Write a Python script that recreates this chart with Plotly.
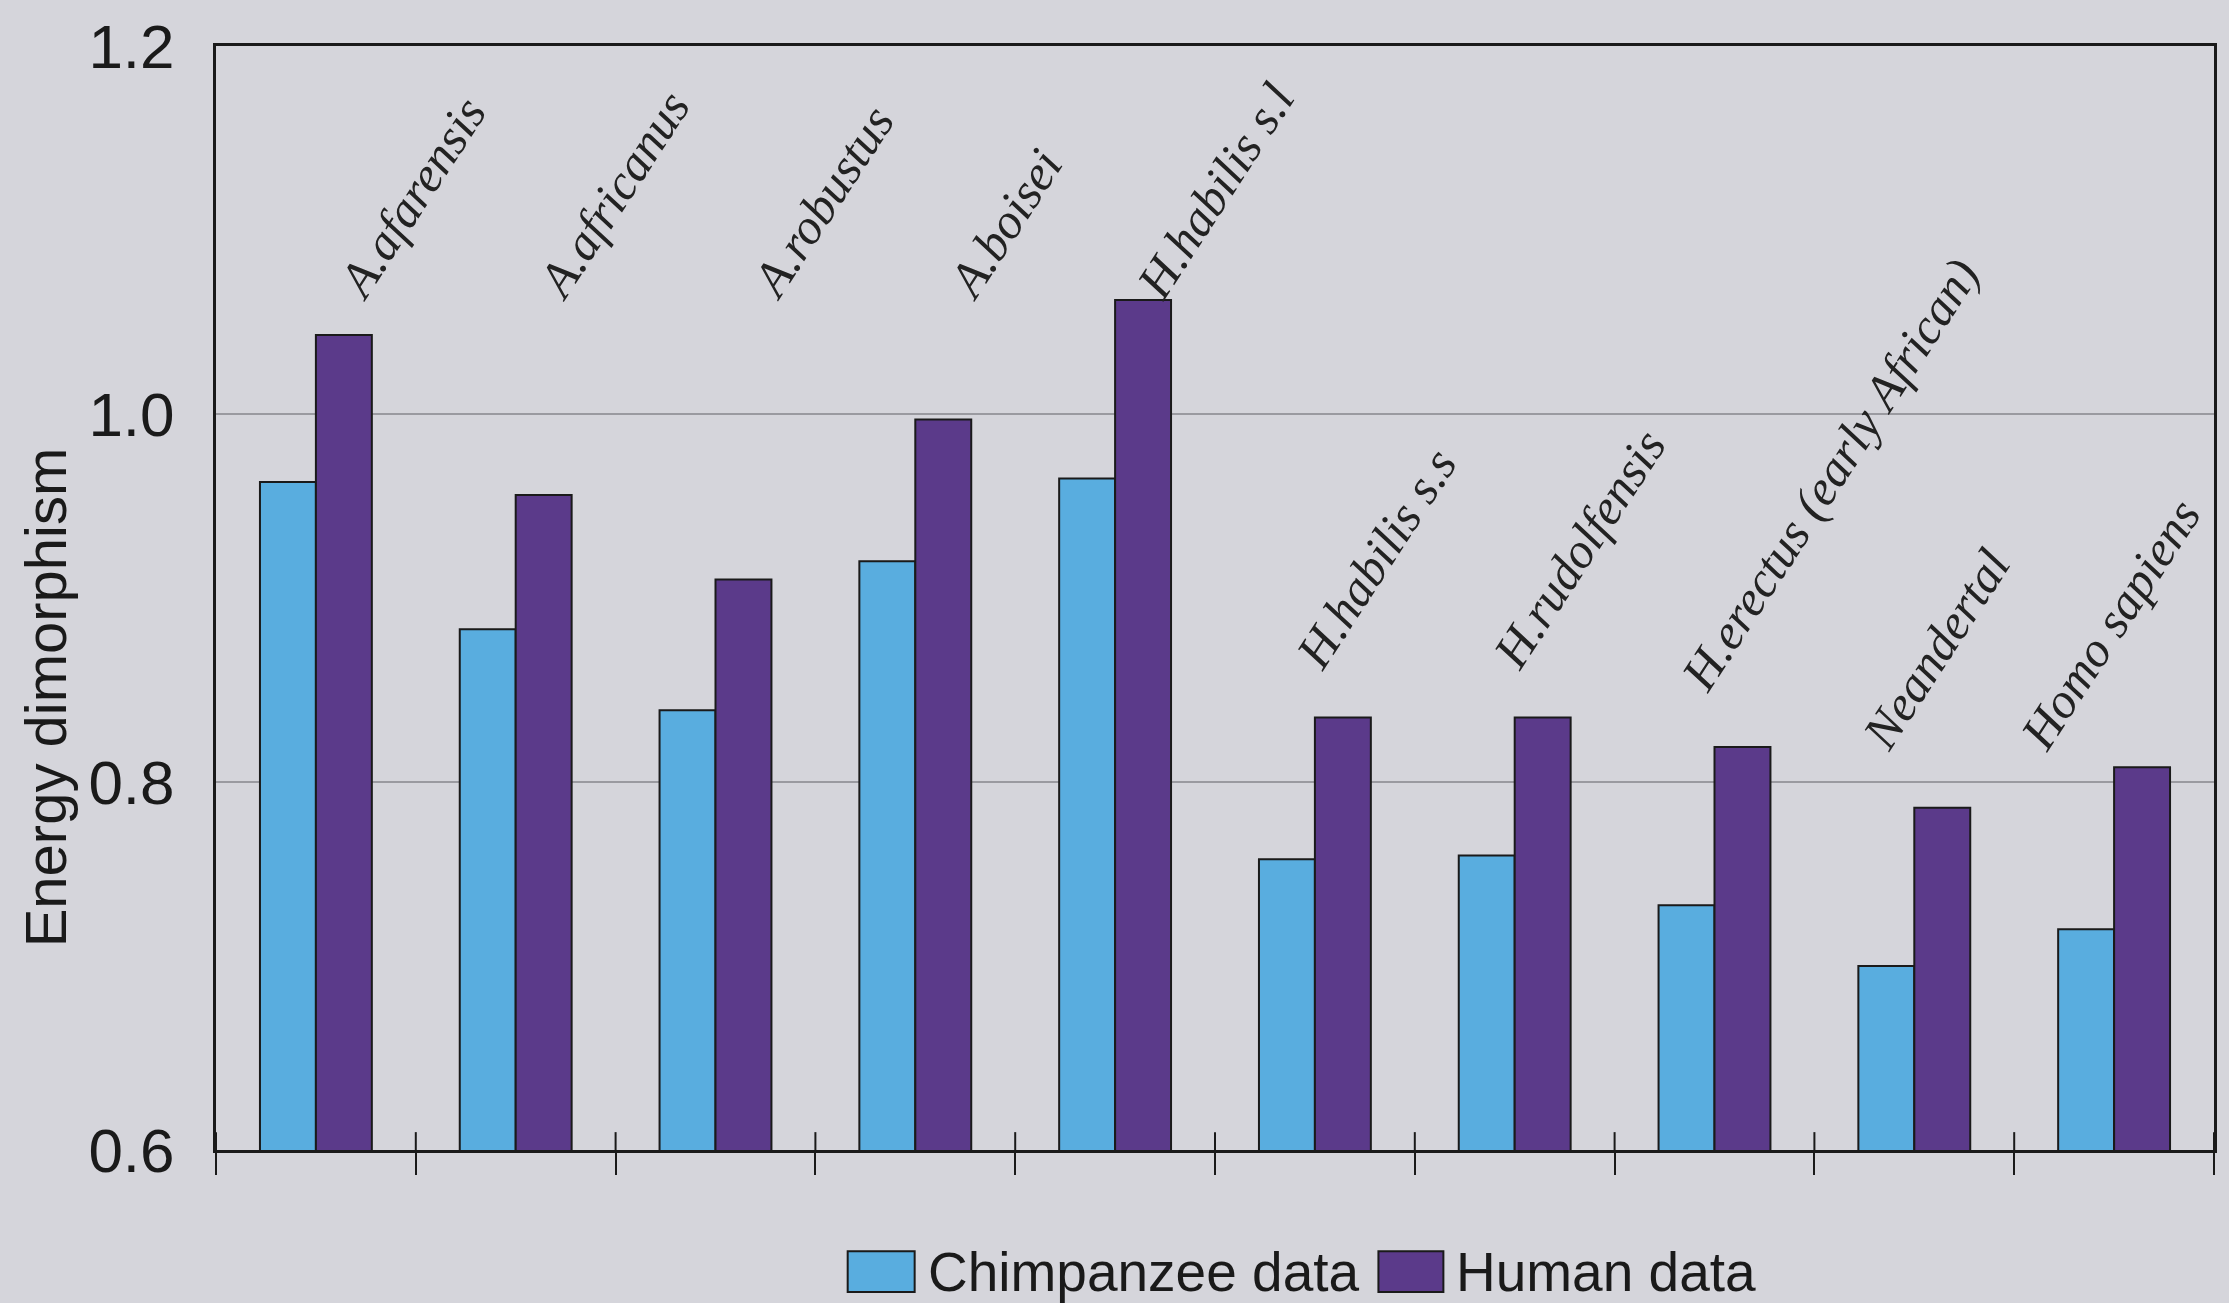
import plotly.graph_objects as go

species = ["A.afarensis", "A.africanus", "A.robustus", "A.boisei", "H.habilis s.l",
           "H.habilis s.s", "H.rudolfensis", "H.erectus (early African)", "Neandertal", "Homo sapiens"]
chimp = [0.963, 0.883, 0.839, 0.920, 0.965, 0.758, 0.760, 0.733, 0.700, 0.720]
human = [1.043, 0.956, 0.910, 0.997, 1.062, 0.835, 0.835, 0.819, 0.786, 0.808]
label_level = [1.056, 1.056, 1.056, 1.056, 1.056, 0.855, 0.855, 0.843, 0.811, 0.811]
y_ticks = [0.6, 0.8, 1.0, 1.2]

# styling
label_xshift = [8, 8, 22, 18, 7, -33, -36, -47, -66, -108]
CHIMP_COLOR = "#59ADDF"
HUMAN_COLOR = "#5B3A8A"
BG = "#D5D5DB"
INK = "#1a1a1a"

W, H = 2229, 1303
ML, MR, MT, MB = 216, 14, 38, 153

fig = go.Figure()
fig.add_trace(go.Bar(x=species, y=chimp, name="Chimpanzee data",
                     marker=dict(color=CHIMP_COLOR, line=dict(color=INK, width=2))))
fig.add_trace(go.Bar(x=species, y=human, name="Human data",
                     marker=dict(color=HUMAN_COLOR, line=dict(color=INK, width=2))))

for sp, lv, dx in zip(species, label_level, label_xshift):
    fig.add_annotation(x=sp, y=lv, xref="x", yref="y", text=sp, showarrow=False,
                       textangle=-57, xanchor="left", yanchor="bottom", xshift=dx,
                       font=dict(family="Liberation Serif", size=50, style="italic",
                                 color="#222222"))

def px2paper(x, y):
    return (x - ML) / (W - ML - MR), (H - MB - y) / (H - MT - MB)

# upper half of the category-boundary ticks (they cross the axis line)
_, tick_top = px2paper(0, H - MB - 18)
for i in range(len(species) + 1):
    fig.add_shape(type="line", xref="x", yref="paper", x0=i - 0.5, x1=i - 0.5,
                  y0=0, y1=tick_top, line=dict(color=INK, width=2))

# y-axis title as annotation (placed lower than plot centre, as in the reference)
tx, ty = px2paper(45, 694)
fig.add_annotation(x=tx, y=ty, xref="paper", yref="paper", text="Energy dimorphism",
                   showarrow=False, textangle=-90, xanchor="center", yanchor="middle",
                   font=dict(family="Liberation Sans", size=58, color=INK))

# custom legend
legend_items = [("Chimpanzee data", CHIMP_COLOR, 848, 915, 926),
                ("Human data", HUMAN_COLOR, 1379, 1444, 1455)]
for name, col, x0, x1, tx in legend_items:
    px0, py0 = px2paper(x0, 1293)
    px1, py1 = px2paper(x1, 1252)
    fig.add_shape(type="rect", xref="paper", yref="paper", x0=px0, x1=px1, y0=py0, y1=py1,
                  fillcolor=col, line=dict(color=INK, width=2))
    tpx, tpy = px2paper(tx, 1273)
    fig.add_annotation(x=tpx, y=tpy, xref="paper", yref="paper", text=name, showarrow=False,
                       xanchor="left", yanchor="middle",
                       font=dict(family="Liberation Sans", size=55, color=INK))

fig.update_layout(
    width=W, height=H,
    margin=dict(l=ML, r=MR, t=MT, b=MB),
    paper_bgcolor=BG, plot_bgcolor=BG,
    barmode="group", bargap=0.44, bargroupgap=0,
    showlegend=False,
    xaxis=dict(type="category", range=[-0.5, len(species) - 0.5],
               showticklabels=False, tickson="boundaries",
               ticks="outside", ticklen=22, tickwidth=2, tickcolor=INK,
               showline=True, linecolor=INK, linewidth=3, mirror=True,
               showgrid=False, zeroline=False),
    yaxis=dict(range=[0.6, 1.2], tickvals=y_ticks, ticktext=[f"{v:.1f}" for v in y_ticks],
               showline=True, linecolor=INK, linewidth=3, mirror=True,
               showgrid=True, gridcolor="#9a9aa0", gridwidth=2, zeroline=False,
               ticks="", ticklabelstandoff=26,
               tickfont=dict(family="Liberation Sans", size=62, color=INK)),
)

fig.write_html("out.html", config={"displayModeBar": False},
               post_script="document.body.style.margin='0';")
